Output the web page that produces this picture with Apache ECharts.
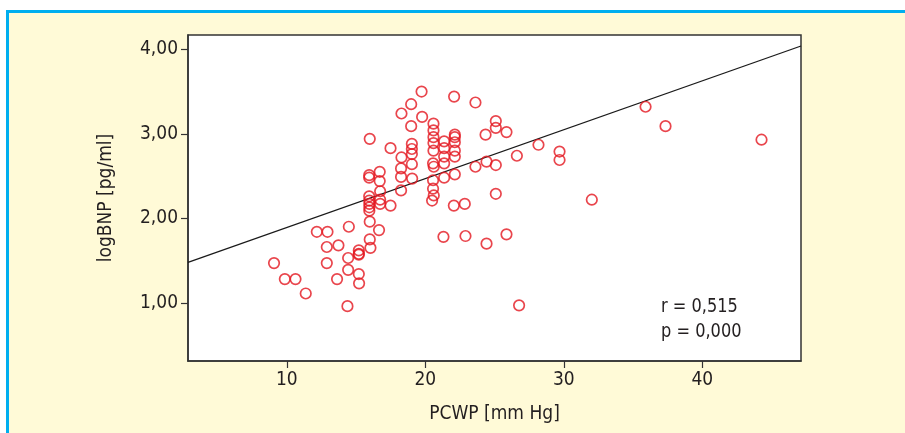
<!DOCTYPE html>
<html>
<head>
<meta charset="utf-8">
<script src="https://cdn.jsdelivr.net/npm/echarts@6/dist/echarts.min.js"></script>
<style>html,body{margin:0;padding:0;background:#fff}#c{width:905px;height:433px}</style>
</head>
<body>
<div id="c"></div>
<script>
// PCWP [mm Hg]
const pcwp = [19.73,22.08,23.62,18.98,18.28,19.77,18.98,20.59,20.59,20.59,20.59,20.59,15.99,17.49,24.35,25.09,25.09,
  21.36,21.36,21.36,21.36,21.36,22.13,22.13,22.13,22.13,22.13,22.13,19.03,19.03,19.03,18.28,19.03,20.56,20.61,
  18.25,18.25,19.05,20.56,20.56,20.61,23.62,24.42,25.09,25.09,15.95,15.95,16.71,16.71,16.74,18.25,15.95,
  15.96,15.96,15.96,15.96,16.74,16.74,17.49,20.49,22.06,22.85,15.99,16.66,15.99,16.04,14.48,12.17,12.94,12.89,13.73,
  15.2,15.2,15.2,14.43,9.08,12.89,14.43,15.2,15.22,9.86,10.63,13.63,11.37,14.38,21.31,22.9,24.42,
  35.9,37.34,44.27,25.86,28.17,29.69,29.69,26.61,32.02,25.86,26.77];
// logBNP [pg/ml]
const logbnp = [3.50,3.44,3.37,3.35,3.24,3.20,3.09,3.12,3.04,2.96,2.89,2.80,2.94,2.83,2.99,3.15,3.07,
  2.91,2.83,2.73,2.65,2.48,2.99,2.96,2.90,2.80,2.73,2.52,2.88,2.82,2.76,2.72,2.64,2.65,2.61,
  2.59,2.49,2.47,2.45,2.35,2.27,2.61,2.67,2.63,2.29,2.51,2.48,2.55,2.44,2.32,2.33,2.26,
  2.21,2.17,2.13,2.09,2.22,2.17,2.15,2.21,2.15,2.17,1.96,1.86,1.75,1.65,1.90,1.84,1.84,1.66,1.68,
  1.62,1.58,1.57,1.53,1.47,1.47,1.39,1.34,1.23,1.28,1.28,1.28,1.11,0.96,1.78,1.79,1.70,
  3.32,3.09,2.93,3.02,2.87,2.79,2.69,2.74,2.22,1.81,0.97];
const xTicks = [10, 20, 30, 40];
const yTicks = [1, 2, 3, 4];
const xRange = [2.87, 47.12];
const yRange = [0.311, 4.169];
// fitted regression line
const fitIntercept = 1.312;
const fitSlope = 0.05787;
const statLines = ['r = 0,515', 'p = 0,000'];

const FONT = "'Liberation Sans Narrow','DejaVu Sans Condensed','Roboto Condensed',sans-serif";
const points = pcwp.map((x, i) => [x, logbnp[i]]);
const fit = xRange.map(x => [x, fitIntercept + fitSlope * x]);

const chart = echarts.init(document.getElementById('c'), null, {renderer: 'canvas'});
chart.setOption({
  backgroundColor: '#ffffff',
  animation: false,
  graphic: [
    {type: 'rect', shape: {x: 6, y: 10, width: 905, height: 430}, style: {fill: '#FFFAD7'}, z: -10},
    {type: 'rect', shape: {x: 6, y: 10, width: 905, height: 3}, style: {fill: '#00AEEF'}, z: -9},
    {type: 'rect', shape: {x: 6, y: 10, width: 3, height: 430}, style: {fill: '#00AEEF'}, z: -9},
    {type: 'text', x: 661, y: 294, scaleX: 0.9, style: {text: statLines.join('\n'), font: '20px ' + FONT, fill: '#231f20', lineHeight: 25}, z: 10}
  ],
  grid: {left: 188, top: 35, width: 613, height: 326, show: true, backgroundColor: '#fff', borderColor: '#333', borderWidth: 1.5},
  xAxis: {
    type: 'value', min: xRange[0], max: xRange[1],
    name: 'PCWP [mm Hg]', nameLocation: 'middle', nameGap: 44,
    nameTextStyle: {fontFamily: FONT, fontSize: 19, color: '#231f20'},
    axisLine: {show: true, onZero: false, lineStyle: {color: '#333', width: 1.5}},
    axisTick: {show: true, length: 7, customValues: xTicks, lineStyle: {color: '#333', width: 1.2}},
    axisLabel: {customValues: xTicks, margin: 10, fontFamily: FONT, fontSize: 19, color: '#231f20'},
    splitLine: {show: false}
  },
  yAxis: {
    type: 'value', min: yRange[0], max: yRange[1],
    name: 'logBNP [pg/ml]', nameLocation: 'middle', nameGap: 72,
    nameTextStyle: {fontFamily: FONT, fontSize: 19, color: '#231f20'},
    axisLine: {show: true, onZero: false, lineStyle: {color: '#333', width: 1.5}},
    axisTick: {show: true, length: 7, customValues: yTicks, lineStyle: {color: '#333', width: 1.2}},
    axisLabel: {customValues: yTicks, margin: 10, fontFamily: FONT, fontSize: 19, color: '#231f20',
      formatter: v => v.toFixed(2).replace('.', ',')},
    splitLine: {show: false}
  },
  series: [
    {type: 'line', data: fit, symbol: 'none', lineStyle: {color: '#1a1a1a', width: 1.3}, z: 2, silent: true},
    {type: 'scatter', data: points, symbol: 'circle', symbolSize: 10.5,
      itemStyle: {color: 'rgba(0,0,0,0)', borderColor: '#E3161F', borderWidth: 1.7}, z: 3}
  ]
});
</script>
</body>
</html>
